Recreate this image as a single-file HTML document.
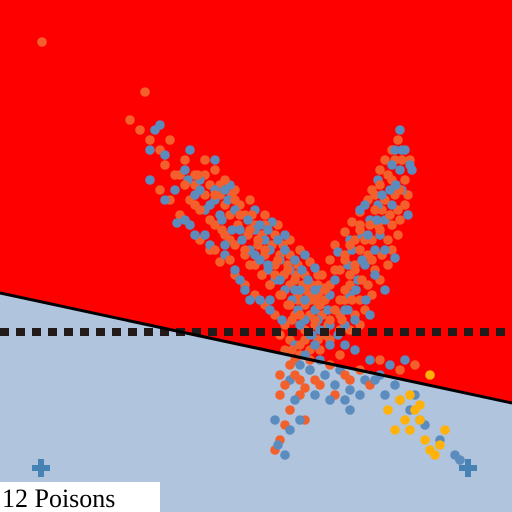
<!DOCTYPE html>
<html><head><meta charset="utf-8"><style>
html,body{margin:0;padding:0;width:512px;height:512px;overflow:hidden;background:#b0c4de}
svg{display:block}
</style></head><body>
<svg id="chart" width="512" height="512" viewBox="0 0 512 512" xmlns="http://www.w3.org/2000/svg">
<polygon points="0,0 512,0 512,403 0,293" fill="#ff0000"/>
<g id="pts"></g>
<line x1="0" y1="332" x2="512" y2="332" stroke="#231a1a" stroke-width="8" stroke-dasharray="9 7"/>
<line x1="0" y1="293" x2="512" y2="403" stroke="#000" stroke-width="3"/>
<g fill="#4682b4"><rect x="32" y="465" width="18" height="6"/><rect x="38" y="459" width="6" height="18"/></g>
<g fill="#4682b4"><rect x="459" y="465" width="18" height="6"/><rect x="465" y="459" width="6" height="18"/></g>
<rect x="0" y="482" width="160" height="30" fill="#fff"/>
<text x="2" y="507" font-family="Liberation Serif, serif" font-size="26" fill="#000">12 Poisons</text>
</svg>
<script>
const orangeX=[145,130,140,150,160,165,175,185,190,200,210,215,222,230,240,245,250,258,262,270,278,282,290,295,300,305,198,205,225,235,250,265,275,288,292,310,170,185,215,230,398,395,388,380,385,375,370,365,360,355,350,345,340,335,330,325,380,372,362,352,342,390,400,360,350,335,325,320,315,345,300,310,295,285,280,290,285,280,275,320,330,340,345,360,370,380,400,415,300,315,305,292,42];
const orangeY=[92,120,130,140,150,165,175,185,200,210,220,195,230,240,215,250,265,240,275,285,260,295,305,280,315,330,175,160,180,200,230,250,275,270,320,300,140,160,250,260,140,160,175,185,200,210,225,240,250,265,275,290,300,310,320,335,230,260,280,300,320,215,190,230,245,270,290,305,320,260,345,360,375,385,395,410,425,440,450,350,365,355,375,370,385,360,370,365,395,380,420,350,42];
const blueX=[155,150,165,150,175,185,195,210,220,205,225,240,255,260,268,280,285,295,305,300,310,160,190,215,245,250,270,235,400,405,392,396,382,377,368,362,356,348,338,330,385,375,366,355,320,345,410,360,305,315,325,335,350,360,375,385,400,410,420,425,440,455,460,300,295,290,278,285,310,350,390,405,275];
const blueY=[130,150,155,180,190,170,195,205,215,235,245,230,255,225,265,280,250,290,300,325,335,125,150,160,290,300,300,270,130,150,165,185,195,220,235,260,290,310,335,345,250,275,300,320,330,345,165,210,355,345,375,385,390,395,380,395,400,410,420,425,440,455,460,420,400,430,445,455,370,410,365,360,420,390];
const orangeExtra=[[180,175],[195,175],[205,175],[195,185],[210,185],[220,185],[205,195],[220,195],[232,195],[195,205],[225,205],[240,205],[230,215],[245,215],[252,215],[215,225],[238,225],[255,225],[265,225],[225,235],[248,235],[262,235],[275,235],[235,245],[258,245],[272,245],[283,245],[245,255],[265,255],[280,255],[290,255],[255,265],[275,265],[288,265],[298,265],[262,275],[284,275],[296,275],[305,275],[270,285],[290,285],[303,285],[312,285],[280,295],[298,295],[310,295],[318,295],[288,305],[305,305],[318,305],[295,315],[310,315],[322,315],[300,325],[315,325],[328,325],[305,340],[318,340],[330,340],
[402,160],[410,160],[392,180],[405,180],[375,195],[395,195],[408,195],[382,210],[398,210],[360,225],[378,225],[392,225],[355,240],[372,240],[388,240],[345,255],[368,255],[382,255],[340,270],[355,270],[375,270],[330,285],[350,285],[368,285],[325,300],[345,300],[360,300],[322,315],[340,315],[355,315],[325,330],[340,330],[350,330],[300,355],[290,365],[310,370],[305,388]];
const blueExtra=[[188,180],[200,180],[200,190],[215,190],[215,200],[228,200],[205,210],[235,210],[222,220],[248,220],[232,230],[255,230],[268,230],[242,240],[265,240],[278,240],[250,250],[270,250],[285,250],[260,260],[280,260],[295,260],[268,270],[290,270],[302,270],[275,280],[295,280],[308,280],[285,290],[300,290],[315,290],[292,300],[310,300],[298,310],[315,310],[305,320],[318,320],[312,335],[325,335],[177,223],[190,225],[245,290],[225,190],
[402,150],[395,150],[400,170],[412,170],[390,190],[402,190],[378,205],[392,205],[370,220],[385,220],[362,235],[380,235],[352,250],[375,250],[348,265],[365,265],[335,280],[358,280],[330,295],[350,295],[328,310],[345,310],[330,325],[345,325],[295,345],[320,360],[340,370],[365,380]];
const orangeWide=[[160,190],[170,200],[180,215],[190,225],[200,240],[210,250],[220,262],[235,275],[245,285],[255,295],[265,305],[275,315],[285,325],[215,170],[235,190],[250,200],[265,215],[278,225],[290,240],[300,250],[310,262],[318,275],[325,288],[280,335],[290,340],[298,300],[305,290],
[330,260],[335,245],[345,232],[352,222],[360,212],[368,200],[372,190],[380,170],[385,160],[392,150],[405,205],[400,220],[398,235],[392,250],[388,265],[380,280],[372,295],[365,310],[360,325],[315,300],[318,285],[322,275],
[285,350],[295,360],[280,375],[300,380],[320,385],[335,395],[350,380],[310,350]];
const blueWide=[[165,200],[185,220],[195,235],[210,245],[225,255],[240,280],[260,300],[270,310],[282,320],[230,185],[255,210],[272,222],[285,235],[305,255],[315,268],[338,252],[350,240],[365,205],[378,180],[408,215],[395,258],[385,290],[370,315],[320,290],
[300,365],[315,395],[330,400],[345,400],[290,380],[355,350],[370,360],[380,375],[395,385],[415,395]];
const goldX=[430,400,410,415,420,405,395,388,425,430,440,435,420,445,410];
const goldY=[375,400,395,410,405,420,430,410,440,450,445,455,420,430,430];
const sx=v=>v*512/512, sy=v=>v*512/512;
const g=document.getElementById('pts');
function dot(x,y,color,name){
  const c=document.createElementNS('http://www.w3.org/2000/svg','circle');
  c.setAttribute('cx',sx(x));c.setAttribute('cy',sy(y));c.setAttribute('r',4.8);
  c.setAttribute('fill',color);
  
  
  g.appendChild(c);
}
function draw(xs,ys,color,name){for(let i=0;i<xs.length;i++)dot(xs[i],ys[i],color,name);}
function drawPairs(ps,color,name){ps.forEach(p=>dot(p[0],p[1],color,name));}
drawPairs(orangeWide,'#f4602c','orange-point');
drawPairs(blueWide,'#5c8bbd','blue-point');
drawPairs(orangeExtra,'#f4602c','orange-point');
drawPairs(blueExtra,'#5c8bbd','blue-point');
draw(orangeX,orangeY,'#f4602c','orange-point');
draw(blueX,blueY,'#5c8bbd','blue-point');
draw(goldX,goldY,'#ffb20a','gold-point');
</script>
</body></html>
